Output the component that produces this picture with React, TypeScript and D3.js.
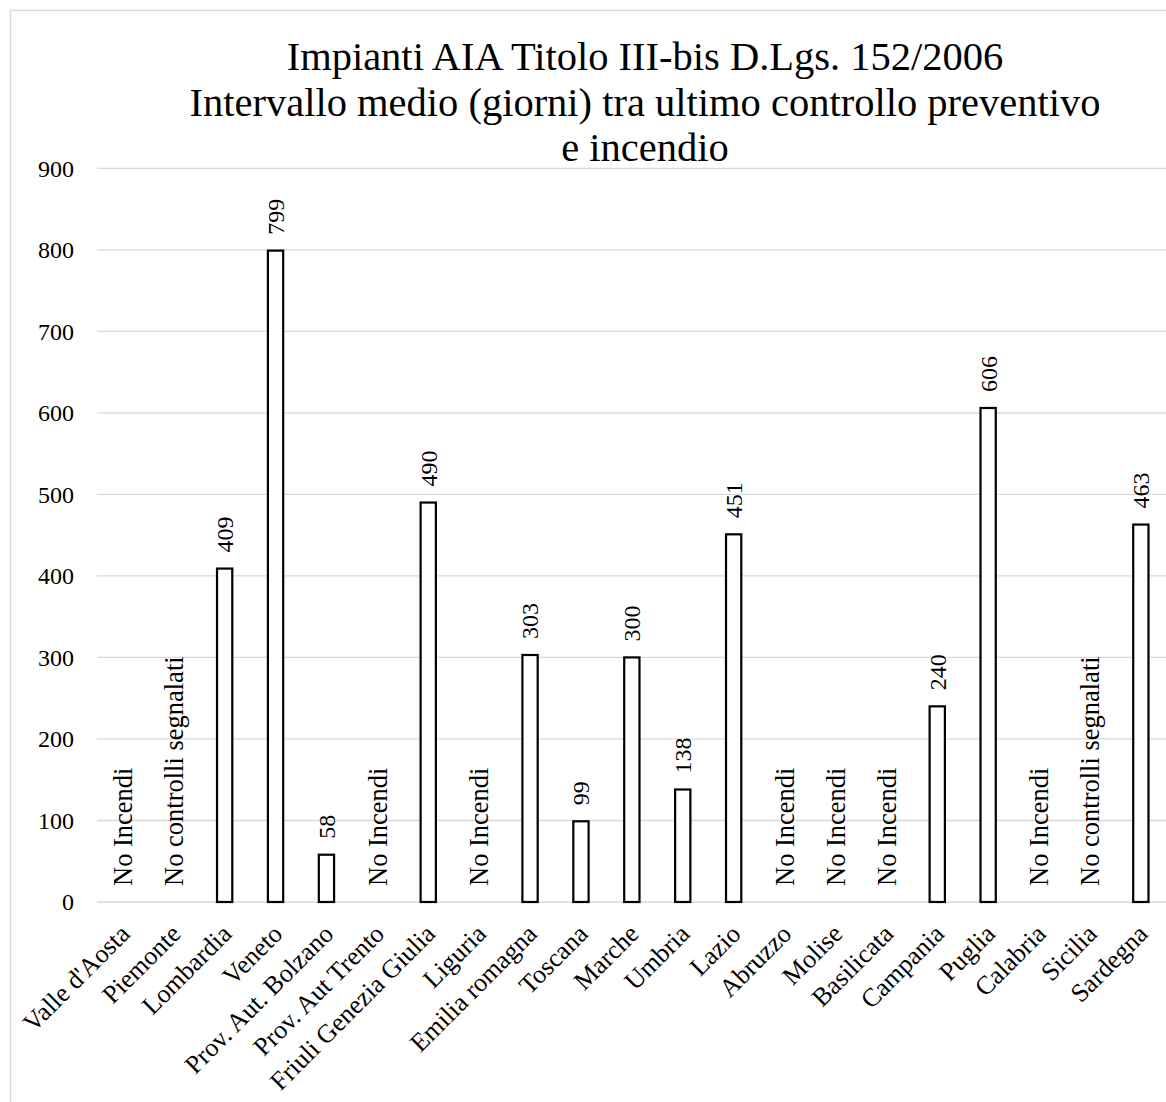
import React from "react";
import * as d3 from "d3";

const categories = [
  "Valle d'Aosta", "Piemonte", "Lombardia", "Veneto", "Prov. Aut. Bolzano",
  "Prov. Aut Trento", "Friuli Genezia Giulia", "Liguria", "Emilia romagna",
  "Toscana", "Marche", "Umbria", "Lazio", "Abruzzo", "Molise", "Basilicata",
  "Campania", "Puglia", "Calabria", "Sicilia", "Sardegna",
];
const values: (number | null)[] = [
  null, null, 409, 799, 58, null, 490, null, 303, 99, 300, 138, 451,
  null, null, null, 240, 606, null, null, 463,
];
const noteLabels: (string | null)[] = [
  "No Incendi", "No controlli segnalati", null, null, null, "No Incendi", null,
  "No Incendi", null, null, null, null, null, "No Incendi", "No Incendi",
  "No Incendi", null, null, "No Incendi", "No controlli segnalati", null,
];
const yTicks = [0, 100, 200, 300, 400, 500, 600, 700, 800, 900];
const titleLines = [
  "Impianti AIA Titolo III-bis D.Lgs. 152/2006",
  "Intervallo medio (giorni) tra ultimo controllo preventivo",
  "e incendio",
];

const W = 1166;
const H = 1102;
const FONT = "'Palatino Linotype', 'Book Antiqua', 'Liberation Serif', serif";

export default function App() {
  const x = d3
    .scaleBand<string>()
    .domain(categories)
    .range([97.4, 1166.3])
    .paddingInner(0.7)
    .paddingOuter(0.35);
  const y = d3.scaleLinear().domain([0, 900]).range([902, 168.3]);
  const bw = x.bandwidth();

  return (
    <svg
      width={W}
      height={H}
      style={{ position: "absolute", left: 0, top: 0, background: "#fff" }}
      fontFamily={FONT}
    >
      <rect x={0} y={0} width={W} height={H} fill="#fff" />
      <rect x={10.5} y={10.5} width={1200} height={1200} fill="none" stroke="#d9d9d9" strokeWidth={1.3} />
      {titleLines.map((t, i) => (
        <text key={i} x={645} y={70 + i * 45.5} textAnchor="middle" fontSize={40.5} fill="#000">
          {t}
        </text>
      ))}
      {yTicks.map((t) => (
        <g key={t}>
          <line x1={97} x2={W} y1={y(t)} y2={y(t)} stroke="#d9d9d9" strokeWidth={1.3} />
          <text x={74} y={y(t)} dy="0.35em" textAnchor="end" fontSize={24} fill="#000">
            {t}
          </text>
        </g>
      ))}
      {categories.map((c, i) => {
        const v = values[i];
        const cx = (x(c) as number) + bw / 2;
        return (
          <g key={c}>
            {v !== null && (
              <rect
                x={x(c) as number}
                y={y(v)}
                width={bw}
                height={y(0) - y(v)}
                fill="#fff"
                stroke="#000"
                strokeWidth={2.2}
              />
            )}
            <text
              transform={`translate(${cx},${y(v ?? 0) - 16}) rotate(-90)`}
              dy="0.35em"
              textAnchor="start"
              fontSize={v !== null ? 24 : 26.5}
              fontFamily={v !== null ? "'Liberation Serif', serif" : FONT}
              fill="#000"
            >
              {v !== null ? String(v) : noteLabels[i]}
            </text>
            <text
              transform={`translate(${cx + 2},${929}) rotate(-45)`}
              dy="0.35em"
              textAnchor="end"
              fontSize={26}
              fill="#000"
            >
              {c}
            </text>
          </g>
        );
      })}
    </svg>
  );
}
